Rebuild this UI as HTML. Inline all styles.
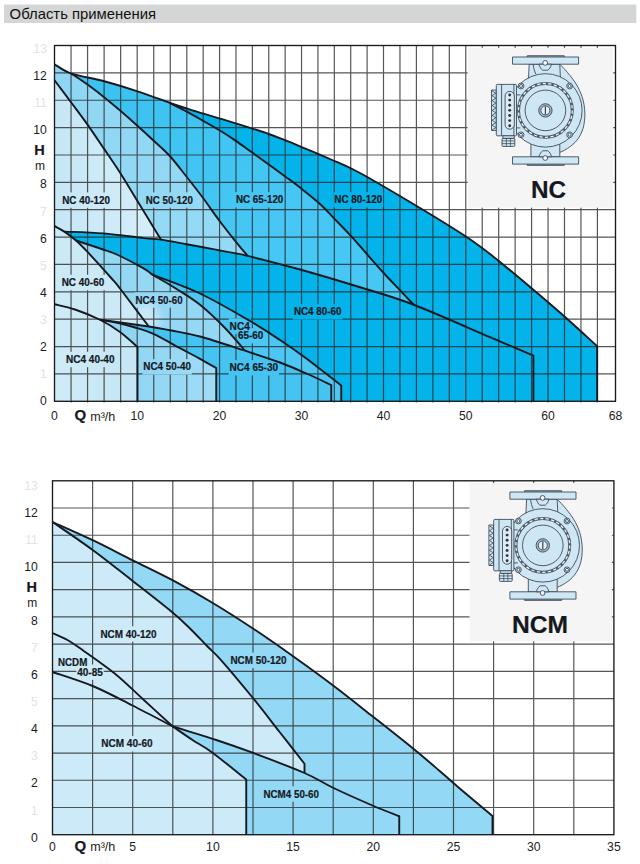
<!DOCTYPE html>
<html><head><meta charset="utf-8">
<style>
html,body{margin:0;padding:0;background:#fff;}
body{width:640px;height:864px;overflow:hidden;font-family:"Liberation Sans",sans-serif;}
svg{display:block;position:absolute;left:0;top:0;}
text{font-family:"Liberation Sans",sans-serif;font-size:12.2px;fill:#1c1c1c;}
text.b{font-weight:bold;fill:#15181f;stroke:#15181f;stroke-width:0.2px;}
</style></head><body>
<svg width="640" height="864" viewBox="0 0 640 864">
<defs>
 <linearGradient id="g1" gradientUnits="userSpaceOnUse" x1="54" y1="0" x2="155" y2="0">
  <stop offset="0" stop-color="#c6e7f6"/><stop offset="1" stop-color="#d5eef9"/>
 </linearGradient>
 <linearGradient id="g2" gradientUnits="userSpaceOnUse" x1="60" y1="70" x2="200" y2="250">
  <stop offset="0" stop-color="#8ed6f3"/><stop offset="1" stop-color="#95daf5"/>
 </linearGradient>
 <linearGradient id="g3" gradientUnits="userSpaceOnUse" x1="100" y1="85" x2="250" y2="250">
  <stop offset="0" stop-color="#3bc2f1"/><stop offset="1" stop-color="#47c7f3"/>
 </linearGradient>
 <linearGradient id="g6" gradientUnits="userSpaceOnUse" x1="120" y1="300" x2="165" y2="270">
  <stop offset="0" stop-color="#cfe9f7"/><stop offset="1" stop-color="#9bd5f3"/>
 </linearGradient>
 <linearGradient id="g8" gradientUnits="userSpaceOnUse" x1="54" y1="0" x2="137" y2="0">
  <stop offset="0" stop-color="#cfebf7"/><stop offset="1" stop-color="#c4e6f6"/>
 </linearGradient>
 <linearGradient id="g9" gradientUnits="userSpaceOnUse" x1="137" y1="0" x2="216" y2="0">
  <stop offset="0" stop-color="#90d6f3"/><stop offset="1" stop-color="#a1dbf6"/>
 </linearGradient>
 <linearGradient id="g10" gradientUnits="userSpaceOnUse" x1="150" y1="0" x2="331" y2="0">
  <stop offset="0" stop-color="#36b6ed"/><stop offset="0.55" stop-color="#41baee"/><stop offset="1" stop-color="#4fc0f0"/>
 </linearGradient>
 <filter id="bl12" filterUnits="userSpaceOnUse" x="0" y="0" width="640" height="864"><feGaussianBlur stdDeviation="12"/></filter>
 <filter id="bl6" filterUnits="userSpaceOnUse" x="0" y="0" width="640" height="864"><feGaussianBlur stdDeviation="5"/></filter>
 <filter id="bl8" filterUnits="userSpaceOnUse" x="0" y="0" width="640" height="864"><feGaussianBlur stdDeviation="7"/></filter>
 <clipPath id="cp_r2"><path d="M54.50 80.30L54.50 64.30 C57.33 65.85 68.67 72.05 71.50 73.60 C74.17 75.43 82.07 80.67 87.50 84.60 C92.93 88.53 98.62 92.83 104.10 97.20 C109.58 101.57 114.90 106.08 120.40 110.80 C125.90 115.52 131.55 120.52 137.10 125.50 C142.65 130.48 148.25 135.62 153.70 140.70 C159.15 145.78 164.35 150.03 169.80 156.00 C175.25 161.97 180.88 169.53 186.40 176.50 C191.92 183.47 197.37 190.38 202.90 197.80 C208.43 205.22 214.10 213.67 219.60 221.00 C225.10 228.33 231.23 236.00 235.90 241.80 C240.57 247.60 245.65 253.47 247.60 255.80 C245.65 255.40 240.57 254.30 235.90 253.40 C231.23 252.50 225.10 251.43 219.60 250.40 C214.10 249.37 208.43 248.23 202.90 247.20 C197.37 246.17 193.40 245.47 186.40 244.20 C179.40 242.93 165.15 240.37 160.90 239.60 C159.70 237.62 157.67 234.22 153.70 227.70 C149.73 221.18 142.65 209.58 137.10 200.50 C131.55 191.42 125.90 181.80 120.40 173.20 C114.90 164.60 109.58 157.00 104.10 148.90 C98.62 140.80 93.02 132.38 87.50 124.60 C81.98 116.82 76.50 109.63 71.00 102.25 C65.50 94.87 57.25 83.96 54.50 80.30Z"/></clipPath><clipPath id="cp_r6"><path d="M76.00 240.50 C81.08 242.18 99.17 248.02 106.50 250.60 C113.83 253.18 113.75 253.00 120.00 256.00 C126.25 259.00 138.58 265.48 144.00 268.60 C149.42 271.73 151.08 273.73 152.50 274.75 C156.25 276.96 167.08 283.00 175.00 288.00 C182.92 293.00 191.67 298.08 200.00 304.75 C208.33 311.42 217.50 320.34 225.00 328.00 C232.50 335.66 241.67 346.92 245.00 350.70 C237.50 348.33 212.50 339.90 200.00 336.50 C187.50 333.10 178.54 331.97 170.00 330.30 C161.46 328.63 152.29 327.13 148.75 326.50 C143.96 320.17 126.26 296.58 120.00 288.50 C113.74 280.42 116.58 284.05 111.20 278.00 C105.83 271.95 93.62 258.45 87.75 252.20 C81.88 245.95 77.96 242.45 76.00 240.50Z"/></clipPath><clipPath id="cp_r9"><path d="M100.00 319.75 C103.07 320.29 112.57 321.71 118.40 323.00 C124.23 324.29 129.17 325.68 135.00 327.50 C140.83 329.32 145.58 330.28 153.40 333.90 C161.22 337.52 174.13 345.05 181.90 349.20 C189.67 353.35 194.28 355.67 200.00 358.80 C205.72 361.93 213.54 366.47 216.25 368.00L216.25 401.30L137.50 401.30L137.50 347.00 C134.58 344.50 126.25 336.54 120.00 332.00 C113.75 327.46 103.33 321.79 100.00 319.75Z"/></clipPath>
 <mask id="mk1" maskUnits="userSpaceOnUse" x="0" y="0" width="640" height="864"><rect width="640" height="864" fill="#fff"/><rect x="61.30" y="192.40" width="49.50" height="15.40" fill="#000"/><rect x="144.80" y="192.30" width="49.00" height="15.40" fill="#000"/><rect x="235.00" y="192.10" width="49.20" height="15.40" fill="#000"/><rect x="333.40" y="192.10" width="49.70" height="15.40" fill="#000"/><rect x="60.80" y="274.80" width="44.30" height="15.40" fill="#000"/><rect x="134.55" y="292.30" width="48.95" height="15.40" fill="#000"/><rect x="228.70" y="318.40" width="22.10" height="15.40" fill="#000"/><rect x="237.10" y="328.10" width="27.20" height="15.40" fill="#000"/><rect x="293.00" y="304.20" width="49.40" height="15.40" fill="#000"/><rect x="65.05" y="351.80" width="50.40" height="15.40" fill="#000"/><rect x="142.40" y="359.20" width="49.40" height="15.40" fill="#000"/><rect x="228.70" y="360.10" width="50.30" height="15.40" fill="#000"/></mask>
 <mask id="mk2" maskUnits="userSpaceOnUse" x="0" y="0" width="640" height="864"><rect width="640" height="864" fill="#fff"/><rect x="99.55" y="626.30" width="57.90" height="15.40" fill="#000"/><rect x="229.55" y="652.55" width="57.90" height="15.40" fill="#000"/><rect x="57.05" y="654.30" width="31.15" height="15.40" fill="#000"/><rect x="76.30" y="664.55" width="27.40" height="15.40" fill="#000"/><rect x="100.30" y="736.10" width="53.20" height="15.40" fill="#000"/><rect x="262.55" y="786.30" width="57.40" height="15.40" fill="#000"/></mask>
</defs>
<rect width="640" height="864" fill="#fff"/>
<!-- header -->
<rect x="4" y="4.5" width="632.3" height="18.5" fill="#d4d5d5"/>
<text x="9.6" y="19.2" style="font-size:15px;fill:#111" textLength="146.5" lengthAdjust="spacingAndGlyphs">Область применения</text>

<!-- ===== chart 1 ===== -->
<g>
 <path d="M54.50 64.30 C57.33 65.85 63.21 70.77 71.50 73.60 C79.79 76.42 93.25 78.30 104.25 81.25 C115.25 84.20 126.54 87.67 137.50 91.30 C148.46 94.92 161.87 100.15 170.00 103.00 C178.13 105.85 180.85 106.67 186.30 108.40 C191.75 110.13 197.23 111.75 202.70 113.40 C208.17 115.05 213.63 116.65 219.10 118.30 C224.57 119.95 230.03 121.62 235.50 123.30 C240.97 124.98 246.37 126.62 251.90 128.40 C257.43 130.18 263.17 132.03 268.70 134.00 C274.23 135.97 279.88 138.15 285.10 140.20 C290.32 142.25 292.52 143.17 300.00 146.30 C307.48 149.43 320.00 154.55 330.00 159.00 C340.00 163.45 345.00 164.83 360.00 173.00 C375.00 181.17 402.29 197.38 420.00 208.00 C437.71 218.62 454.17 228.75 466.25 236.75 C478.33 244.75 481.51 247.32 492.50 256.00 C503.49 264.68 520.12 278.63 532.20 288.80 C544.28 298.97 554.17 307.43 565.00 317.00 C575.83 326.57 591.83 341.33 597.20 346.20L597.20 401.30L54.50 401.30Z" fill="#03b3e9"/>
 <path d="M54.50 80.30 C57.25 83.96 65.50 94.87 71.00 102.25 C76.50 109.63 81.98 116.82 87.50 124.60 C93.02 132.38 98.62 140.80 104.10 148.90 C109.58 157.00 114.90 164.60 120.40 173.20 C125.90 181.80 131.55 191.42 137.10 200.50 C142.65 209.58 149.73 221.18 153.70 227.70 C157.67 234.22 159.70 237.62 160.90 239.60 C158.08 239.35 153.58 239.13 144.00 238.10 C134.42 237.07 116.68 234.48 103.40 233.40 C90.12 232.32 70.82 231.90 64.30 231.60 C62.67 230.68 56.13 227.02 54.50 226.10Z" fill="url(#g1)"/>
 <path d="M54.50 80.30L54.50 64.30 C57.33 65.85 68.67 72.05 71.50 73.60 C74.17 75.43 82.07 80.67 87.50 84.60 C92.93 88.53 98.62 92.83 104.10 97.20 C109.58 101.57 114.90 106.08 120.40 110.80 C125.90 115.52 131.55 120.52 137.10 125.50 C142.65 130.48 148.25 135.62 153.70 140.70 C159.15 145.78 164.35 150.03 169.80 156.00 C175.25 161.97 180.88 169.53 186.40 176.50 C191.92 183.47 197.37 190.38 202.90 197.80 C208.43 205.22 214.10 213.67 219.60 221.00 C225.10 228.33 231.23 236.00 235.90 241.80 C240.57 247.60 245.65 253.47 247.60 255.80 C245.65 255.40 240.57 254.30 235.90 253.40 C231.23 252.50 225.10 251.43 219.60 250.40 C214.10 249.37 208.43 248.23 202.90 247.20 C197.37 246.17 193.40 245.47 186.40 244.20 C179.40 242.93 165.15 240.37 160.90 239.60 C159.70 237.62 157.67 234.22 153.70 227.70 C149.73 221.18 142.65 209.58 137.10 200.50 C131.55 191.42 125.90 181.80 120.40 173.20 C114.90 164.60 109.58 157.00 104.10 148.90 C98.62 140.80 93.02 132.38 87.50 124.60 C81.98 116.82 76.50 109.63 71.00 102.25 C65.50 94.87 57.25 83.96 54.50 80.30Z" fill="url(#g2)"/>
 <path d="M71.50 73.60 C76.96 74.88 93.25 78.30 104.25 81.25 C115.25 84.20 126.54 87.67 137.50 91.30 C148.46 94.92 164.58 101.05 170.00 103.00 C172.72 104.40 180.85 108.47 186.30 111.40 C191.75 114.33 197.23 117.50 202.70 120.60 C208.17 123.70 213.63 126.67 219.10 130.00 C224.57 133.33 230.03 136.88 235.50 140.60 C240.97 144.32 246.37 148.33 251.90 152.30 C257.43 156.27 263.17 160.38 268.70 164.40 C274.23 168.42 279.88 172.53 285.10 176.40 C290.32 180.27 294.18 183.00 300.00 187.60 C305.82 192.20 314.33 198.88 320.00 204.00 C325.67 209.12 328.90 213.03 334.00 218.30 C339.10 223.57 345.12 229.65 350.60 235.60 C356.08 241.55 361.47 247.85 366.90 254.00 C372.33 260.15 377.73 266.50 383.20 272.50 C388.67 278.50 394.61 284.62 399.70 290.00 C404.79 295.38 411.41 302.29 413.75 304.75 C404.79 301.83 378.96 293.12 360.00 287.25 C341.04 281.38 318.73 274.74 300.00 269.50 C281.27 264.26 256.33 258.08 247.60 255.80 C245.65 253.47 240.57 247.60 235.90 241.80 C231.23 236.00 225.10 228.33 219.60 221.00 C214.10 213.67 208.43 205.22 202.90 197.80 C197.37 190.38 191.92 183.47 186.40 176.50 C180.88 169.53 175.25 161.97 169.80 156.00 C164.35 150.03 159.15 145.78 153.70 140.70 C148.25 135.62 142.65 130.48 137.10 125.50 C131.55 120.52 125.90 115.52 120.40 110.80 C114.90 106.08 109.58 101.57 104.10 97.20 C98.62 92.83 92.93 88.53 87.50 84.60 C82.07 80.67 74.17 75.43 71.50 73.60Z" fill="url(#g3)"/>
 <path d="M54.50 226.10 C56.13 227.02 60.72 229.20 64.30 231.60 C67.88 234.00 72.09 237.07 76.00 240.50 C79.91 243.93 81.88 245.95 87.75 252.20 C93.62 258.45 105.83 271.95 111.20 278.00 C116.58 284.05 113.74 280.42 120.00 288.50 C126.26 296.58 143.96 320.17 148.75 326.50 C140.62 325.38 108.12 320.88 100.00 319.75 C95.83 318.04 82.58 312.08 75.00 309.50 C67.42 306.92 57.92 305.12 54.50 304.25Z" fill="#cce9f6"/>
 <g clip-path="url(#cp_r6)"><path d="M76.00 240.50 C81.08 242.18 99.17 248.02 106.50 250.60 C113.83 253.18 113.75 253.00 120.00 256.00 C126.25 259.00 138.58 265.48 144.00 268.60 C149.42 271.73 151.08 273.73 152.50 274.75 C156.25 276.96 167.08 283.00 175.00 288.00 C182.92 293.00 191.67 298.08 200.00 304.75 C208.33 311.42 217.50 320.34 225.00 328.00 C232.50 335.66 241.67 346.92 245.00 350.70 C237.50 348.33 212.50 339.90 200.00 336.50 C187.50 333.10 178.54 331.97 170.00 330.30 C161.46 328.63 152.29 327.13 148.75 326.50 C143.96 320.17 126.26 296.58 120.00 288.50 C113.74 280.42 116.58 284.05 111.20 278.00 C105.83 271.95 93.62 258.45 87.75 252.20 C81.88 245.95 77.96 242.45 76.00 240.50Z" fill="#95d8f4"/><path d="M140 306 L152 328" fill="none" stroke="#cdeaf7" stroke-width="22" filter="url(#bl6)"/></g>
 <path d="M152.50 274.75 C160.42 277.88 183.75 285.79 200.00 293.50 C216.25 301.21 236.67 313.25 250.00 321.00 C263.33 328.75 270.83 333.92 280.00 340.00 C289.17 346.08 294.79 349.92 305.00 357.50 C315.21 365.08 335.21 380.83 341.25 385.50L341.25 401.30L331.25 401.30L331.25 385.00 C327.29 383.17 316.04 377.75 307.50 374.00 C298.96 370.25 290.42 366.38 280.00 362.50 C269.58 358.62 250.83 352.67 245.00 350.70 C241.67 346.92 232.50 335.66 225.00 328.00 C217.50 320.34 208.33 311.42 200.00 304.75 C191.67 298.08 182.92 293.00 175.00 288.00 C167.08 283.00 156.25 276.96 152.50 274.75Z" fill="#4cc6f3"/>
 <path d="M54.50 304.25 C57.92 305.12 67.42 306.92 75.00 309.50 C82.58 312.08 92.50 316.00 100.00 319.75 C107.50 323.50 113.75 327.46 120.00 332.00 C126.25 336.54 134.58 344.50 137.50 347.00L137.50 401.30L54.50 401.30Z" fill="url(#g8)"/>
 <path d="M100.00 319.75 C103.07 320.29 112.57 321.71 118.40 323.00 C124.23 324.29 129.17 325.68 135.00 327.50 C140.83 329.32 145.58 330.28 153.40 333.90 C161.22 337.52 174.13 345.05 181.90 349.20 C189.67 353.35 194.28 355.67 200.00 358.80 C205.72 361.93 213.54 366.47 216.25 368.00L216.25 401.30L137.50 401.30L137.50 347.00 C134.58 344.50 126.25 336.54 120.00 332.00 C113.75 327.46 103.33 321.79 100.00 319.75Z" fill="url(#g9)"/>
 <path d="M100.00 319.75 C108.12 320.88 137.08 324.74 148.75 326.50 C160.42 328.26 161.46 328.63 170.00 330.30 C178.54 331.97 187.50 333.10 200.00 336.50 C212.50 339.90 231.67 346.37 245.00 350.70 C258.33 355.03 269.58 358.62 280.00 362.50 C290.42 366.38 298.96 370.25 307.50 374.00 C316.04 377.75 327.29 383.17 331.25 385.00L331.25 401.30L216.25 401.30L216.25 368.00 C213.54 366.47 205.72 361.93 200.00 358.80 C194.28 355.67 189.67 353.35 181.90 349.20 C174.13 345.05 161.22 337.52 153.40 333.90 C145.58 330.28 140.83 329.32 135.00 327.50 C129.17 325.68 124.23 324.29 118.40 323.00 C112.57 321.71 103.07 320.29 100.00 319.75Z" fill="#45c4f2"/>
 <path d="M71.04 45.50V402.50 M87.58 45.50V402.50 M104.11 45.50V402.50 M120.65 45.50V402.50 M137.19 45.50V402.50 M153.73 45.50V402.50 M170.26 45.50V402.50 M186.80 45.50V402.50 M203.19 45.50V402.50 M219.58 45.50V402.50 M235.97 45.50V402.50 M252.37 45.50V402.50 M268.76 45.50V402.50 M285.15 45.50V402.50 M301.54 45.50V402.50 M317.93 45.50V402.50 M334.33 45.50V402.50 M350.72 45.50V402.50 M367.11 45.50V402.50 M383.50 45.50V402.50 M399.95 45.50V402.50 M416.41 45.50V402.50 M432.86 45.50V402.50 M449.32 45.50V402.50 M465.77 45.50V402.50 M482.22 45.50V402.50 M498.68 45.50V402.50 M515.13 45.50V402.50 M531.58 45.50V402.50 M548.04 45.50V402.50 M564.49 45.50V402.50 M580.95 45.50V402.50 M597.40 45.50V402.50 M54.50 373.93H615.50 M54.50 346.56H615.50 M54.50 319.19H615.50 M54.50 291.82H615.50 M54.50 264.45H615.50 M54.50 237.08H615.50 M54.50 209.72H615.50 M54.50 182.35H615.50 M54.50 154.98H615.50 M54.50 127.61H615.50 M54.50 100.24H615.50 M54.50 72.87H615.50" stroke="#262626" stroke-width="1.2" stroke-opacity="0.78" fill="none" mask="url(#mk1)"/>
 <rect x="467.6" y="47.8" width="145.6" height="159.9" fill="#f5f5f5"/>
 <rect x="54.5" y="45.5" width="561.0" height="355.8" fill="none" stroke="#1a1a1a" stroke-width="1.35"/>
 <g fill="none" stroke="#161a20" stroke-width="1.9" stroke-linejoin="round" stroke-linecap="butt">
  <path d="M54.50 64.30 C57.33 65.85 63.21 70.77 71.50 73.60 C79.79 76.42 93.25 78.30 104.25 81.25 C115.25 84.20 126.54 87.67 137.50 91.30 C148.46 94.92 161.87 100.15 170.00 103.00 C178.13 105.85 180.85 106.67 186.30 108.40 C191.75 110.13 197.23 111.75 202.70 113.40 C208.17 115.05 213.63 116.65 219.10 118.30 C224.57 119.95 230.03 121.62 235.50 123.30 C240.97 124.98 246.37 126.62 251.90 128.40 C257.43 130.18 263.17 132.03 268.70 134.00 C274.23 135.97 279.88 138.15 285.10 140.20 C290.32 142.25 292.52 143.17 300.00 146.30 C307.48 149.43 320.00 154.55 330.00 159.00 C340.00 163.45 345.00 164.83 360.00 173.00 C375.00 181.17 402.29 197.38 420.00 208.00 C437.71 218.62 454.17 228.75 466.25 236.75 C478.33 244.75 481.51 247.32 492.50 256.00 C503.49 264.68 520.12 278.63 532.20 288.80 C544.28 298.97 554.17 307.43 565.00 317.00 C575.83 326.57 591.83 341.33 597.20 346.20L597.20 401.30"/><path d="M54.50 80.30 C57.25 83.96 65.50 94.87 71.00 102.25 C76.50 109.63 81.98 116.82 87.50 124.60 C93.02 132.38 98.62 140.80 104.10 148.90 C109.58 157.00 114.90 164.60 120.40 173.20 C125.90 181.80 131.55 191.42 137.10 200.50 C142.65 209.58 149.73 221.18 153.70 227.70 C157.67 234.22 159.70 237.62 160.90 239.60"/><path d="M71.50 73.60 C74.17 75.43 82.07 80.67 87.50 84.60 C92.93 88.53 98.62 92.83 104.10 97.20 C109.58 101.57 114.90 106.08 120.40 110.80 C125.90 115.52 131.55 120.52 137.10 125.50 C142.65 130.48 148.25 135.62 153.70 140.70 C159.15 145.78 164.35 150.03 169.80 156.00 C175.25 161.97 180.88 169.53 186.40 176.50 C191.92 183.47 197.37 190.38 202.90 197.80 C208.43 205.22 214.10 213.67 219.60 221.00 C225.10 228.33 231.23 236.00 235.90 241.80 C240.57 247.60 245.65 253.47 247.60 255.80"/><path d="M170.00 103.00 C172.72 104.40 180.85 108.47 186.30 111.40 C191.75 114.33 197.23 117.50 202.70 120.60 C208.17 123.70 213.63 126.67 219.10 130.00 C224.57 133.33 230.03 136.88 235.50 140.60 C240.97 144.32 246.37 148.33 251.90 152.30 C257.43 156.27 263.17 160.38 268.70 164.40 C274.23 168.42 279.88 172.53 285.10 176.40 C290.32 180.27 294.18 183.00 300.00 187.60 C305.82 192.20 314.33 198.88 320.00 204.00 C325.67 209.12 328.90 213.03 334.00 218.30 C339.10 223.57 345.12 229.65 350.60 235.60 C356.08 241.55 361.47 247.85 366.90 254.00 C372.33 260.15 377.73 266.50 383.20 272.50 C388.67 278.50 394.61 284.62 399.70 290.00 C404.79 295.38 411.41 302.29 413.75 304.75"/><path d="M64.30 231.60 C70.82 231.90 90.12 232.32 103.40 233.40 C116.68 234.48 134.42 237.07 144.00 238.10 C153.58 239.13 153.83 238.58 160.90 239.60 C167.97 240.62 179.40 242.93 186.40 244.20 C193.40 245.47 197.37 246.17 202.90 247.20 C208.43 248.23 214.10 249.37 219.60 250.40 C225.10 251.43 231.23 252.50 235.90 253.40 C240.57 254.30 236.92 253.12 247.60 255.80 C258.28 258.48 281.27 264.26 300.00 269.50 C318.73 274.74 341.04 281.38 360.00 287.25 C378.96 293.12 392.08 296.43 413.75 304.75 C435.42 313.07 472.29 329.68 490.00 337.20 C507.71 344.72 512.77 346.83 520.00 349.90 C527.23 352.97 531.17 354.65 533.40 355.60L533.40 401.30"/><path d="M54.50 226.10 C56.13 227.02 60.72 229.20 64.30 231.60 C67.88 234.00 72.09 237.07 76.00 240.50 C79.91 243.93 81.88 245.95 87.75 252.20 C93.62 258.45 105.83 271.95 111.20 278.00 C116.58 284.05 113.74 280.42 120.00 288.50 C126.26 296.58 143.96 320.17 148.75 326.50"/><path d="M76.00 240.50 C81.08 242.18 99.17 248.02 106.50 250.60 C113.83 253.18 113.75 253.00 120.00 256.00 C126.25 259.00 138.58 265.48 144.00 268.60 C149.42 271.73 151.08 273.73 152.50 274.75 C156.25 276.96 167.08 283.00 175.00 288.00 C182.92 293.00 191.67 298.08 200.00 304.75 C208.33 311.42 217.50 320.34 225.00 328.00 C232.50 335.66 241.67 346.92 245.00 350.70"/><path d="M152.50 274.75 C160.42 277.88 183.75 285.79 200.00 293.50 C216.25 301.21 236.67 313.25 250.00 321.00 C263.33 328.75 270.83 333.92 280.00 340.00 C289.17 346.08 294.79 349.92 305.00 357.50 C315.21 365.08 335.21 380.83 341.25 385.50L341.25 401.30"/><path d="M54.50 304.25 C57.92 305.12 67.42 306.92 75.00 309.50 C82.58 312.08 92.50 316.00 100.00 319.75 C107.50 323.50 113.75 327.46 120.00 332.00 C126.25 336.54 134.58 344.50 137.50 347.00L137.50 401.30"/><path d="M100.00 319.75 C108.12 320.88 137.08 324.74 148.75 326.50 C160.42 328.26 161.46 328.63 170.00 330.30 C178.54 331.97 187.50 333.10 200.00 336.50 C212.50 339.90 231.67 346.37 245.00 350.70 C258.33 355.03 269.58 358.62 280.00 362.50 C290.42 366.38 298.96 370.25 307.50 374.00 C316.04 377.75 327.29 383.17 331.25 385.00L331.25 401.30"/><path d="M100.00 319.75 C103.07 320.29 112.57 321.71 118.40 323.00 C124.23 324.29 129.17 325.68 135.00 327.50 C140.83 329.32 145.58 330.28 153.40 333.90 C161.22 337.52 174.13 345.05 181.90 349.20 C189.67 353.35 194.28 355.67 200.00 358.80 C205.72 361.93 213.54 366.47 216.25 368.00L216.25 401.30"/>
 </g>
 
<g transform="translate(545.4 110.4)" stroke="#36424e" stroke-width="0.85" fill="#cfe6f4" stroke-linejoin="round">
 <path d="M14.4 -46.2 C18 -42.5 22 -38.5 27.6 -31 C32.5 -24.5 37 -15.5 38.6 -6 C39.8 1 39.8 8 38.4 15 C36.5 24 31.5 31.5 25 36 C21 39 17 41 14.4 42 L0 36 L0 -36 Z"/>
 <path d="M-16.2 -46.2 L-16.9 -32 L15 -32 L14.4 -46.2 Z"/>
 <path d="M-12.3 -46.2 C-11.8 -42 -10.8 -39 -9.6 -36.3" fill="none"/>
 <rect x="-18.2" y="-54.7" width="37" height="1.4"/>
 <rect x="-32.9" y="-53.4" width="66.1" height="7.2"/>
 <path d="M-6.6 -46.2 C-5.6 -43.5 -4.4 -41.2 -2.8 -40.2 H2.4 C4 -41.2 5.4 -43.5 6.2 -46.2 Z"/>
 <circle cx="-0.2" cy="-47.5" r="2.4" fill="#f4f8fb"/>
 <rect x="-14.5" y="33" width="28.9" height="13.4"/>
 <rect x="-18.2" y="53.6" width="37" height="1.4"/>
 <rect x="-32.9" y="46.4" width="66.1" height="7.3"/>
 <path d="M-6.6 46.4 C-5.6 43.7 -4.4 41.4 -2.8 40.4 H2.4 C4 41.4 5.4 43.7 6.2 46.4 Z"/>
 <circle cx="-0.2" cy="47.6" r="2.4" fill="#f4f8fb"/>
 <circle r="36.7"/>
 <circle cx="-24.4" cy="-24.4" r="2.9"/><circle cx="24.2" cy="-24.4" r="2.9"/>
 <circle cx="-24.4" cy="24.4" r="2.9"/><circle cx="24.2" cy="24.4" r="2.9"/>
 <circle cx="-24.4" cy="-24.4" r="1.5" fill="#f4f9fc"/><circle cx="24.2" cy="-24.4" r="1.5" fill="#f4f9fc"/>
 <circle cx="-24.4" cy="24.4" r="1.5" fill="#f4f9fc"/><circle cx="24.2" cy="24.4" r="1.5" fill="#f4f9fc"/>
 <circle r="26.9" stroke="#4d5964" stroke-width="3"/>
 <circle r="26.9" fill="none" stroke="#e9f2f8" stroke-width="1.3" stroke-dasharray="3.3 2.3"/>
 <circle r="20.3"/>
 <circle r="6.7" fill="#9db8cb"/>
 <circle r="4.5" fill="#e6f0f7"/>
 <path d="M0 -3.9V3.9" stroke-width="1.2"/>
 <path d="M-28.9 -15.5H-25M-28.9 17.5H-25" fill="none"/>
 <rect x="-53.9" y="-20.4" width="4.8" height="40.5"/>
 <path d="M-53.40 -19.60 L-49.60 -17.15 L-53.40 -14.70 L-49.60 -12.25 L-53.40 -9.80 L-49.60 -7.35 L-53.40 -4.90 L-49.60 -2.45 L-53.40 -0.00 L-49.60 2.45 L-53.40 4.90 L-49.60 7.35 L-53.40 9.80 L-49.60 12.25 L-53.40 14.70 L-49.60 17.15 L-53.40 19.60" fill="none" stroke-width="0.8"/>
 <rect x="-49.1" y="-26" width="20.2" height="51.4" rx="1"/>
 <path d="M-43.8 -26V25.4M-31.5 -26V25.4" fill="none"/>
 <rect x="-40.3" y="-19" width="9.2" height="37.8" rx="4.6" fill="#dcebf5"/>
 <g fill="#2c3640" stroke="none"><circle cx="-35.7" cy="-15.40" r="1.45"/><circle cx="-35.7" cy="-10.28" r="1.45"/><circle cx="-35.7" cy="-5.16" r="1.45"/><circle cx="-35.7" cy="-0.04" r="1.45"/><circle cx="-35.7" cy="5.08" r="1.45"/><circle cx="-35.7" cy="10.20" r="1.45"/><circle cx="-35.7" cy="15.32" r="1.45"/></g>
 <rect x="-42.5" y="25.4" width="11.4" height="2.6"/>
 <rect x="-43.4" y="28" width="12.8" height="8" rx="1"/>
 <path d="M-43.4 30.5H-30.6M-43.4 33.2H-30.6M-39 28V36M-35 28V36" fill="none" stroke-width="0.7"/>
</g>

 <text x="530.9" y="198" class="b" style="font-size:24.3px">NC</text>
 <text x="62.20" y="203.60" class="b" style="font-size:10.50px" textLength="47.70" lengthAdjust="spacingAndGlyphs">NC 40-120</text><text x="145.70" y="203.50" class="b" style="font-size:10.50px" textLength="47.20" lengthAdjust="spacingAndGlyphs">NC 50-120</text><text x="235.90" y="203.30" class="b" style="font-size:10.50px" textLength="47.40" lengthAdjust="spacingAndGlyphs">NC 65-120</text><text x="334.30" y="203.30" class="b" style="font-size:10.50px" textLength="47.90" lengthAdjust="spacingAndGlyphs">NC 80-120</text><text x="61.70" y="286.00" class="b" style="font-size:10.50px" textLength="42.50" lengthAdjust="spacingAndGlyphs">NC 40-60</text><text x="135.45" y="303.50" class="b" style="font-size:10.50px" textLength="47.15" lengthAdjust="spacingAndGlyphs">NC4 50-60</text><text x="229.60" y="329.60" class="b" style="font-size:10.50px" textLength="20.30" lengthAdjust="spacingAndGlyphs">NC4</text><text x="238.00" y="339.30" class="b" style="font-size:10.50px" textLength="25.40" lengthAdjust="spacingAndGlyphs">65-60</text><text x="293.90" y="315.40" class="b" style="font-size:10.50px" textLength="47.60" lengthAdjust="spacingAndGlyphs">NC4 80-60</text><text x="65.95" y="363.00" class="b" style="font-size:10.50px" textLength="48.60" lengthAdjust="spacingAndGlyphs">NC4 40-40</text><text x="143.30" y="370.40" class="b" style="font-size:10.50px" textLength="47.60" lengthAdjust="spacingAndGlyphs">NC4 50-40</text><text x="229.60" y="371.30" class="b" style="font-size:10.50px" textLength="48.50" lengthAdjust="spacingAndGlyphs">NC4 65-30</text>
 <text x="46.8" y="405.4" text-anchor="end" style="fill:#1c1c1c">0</text>
<text x="46.8" y="378.2" text-anchor="end" style="fill:#e3e3e3">1</text>
<text x="46.8" y="351.1" text-anchor="end" style="fill:#1c1c1c">2</text>
<text x="46.8" y="324.0" text-anchor="end" style="fill:#e3e3e3">3</text>
<text x="46.8" y="296.9" text-anchor="end" style="fill:#1c1c1c">4</text>
<text x="46.8" y="269.8" text-anchor="end" style="fill:#e3e3e3">5</text>
<text x="46.8" y="242.6" text-anchor="end" style="fill:#1c1c1c">6</text>
<text x="46.8" y="215.5" text-anchor="end" style="fill:#e3e3e3">7</text>
<text x="46.8" y="188.4" text-anchor="end" style="fill:#1c1c1c">8</text>
<text x="46.8" y="134.2" text-anchor="end" style="fill:#1c1c1c">10</text>
<text x="46.8" y="107.0" text-anchor="end" style="fill:#e3e3e3">11</text>
<text x="46.8" y="79.9" text-anchor="end" style="fill:#1c1c1c">12</text>
<text x="46.8" y="52.8" text-anchor="end" style="fill:#e3e3e3">13</text>
 <text x="34.2" y="155.2" class="b" style="font-size:14.5px">H</text>
 <text x="35" y="170.2" style="font-size:12px">m</text>
 <text x="54.5" y="419.7" text-anchor="middle">0</text>
<text x="137.2" y="419.7" text-anchor="middle">10</text>
<text x="219.6" y="419.7" text-anchor="middle">20</text>
<text x="301.5" y="419.7" text-anchor="middle">30</text>
<text x="383.5" y="419.7" text-anchor="middle">40</text>
<text x="465.8" y="419.7" text-anchor="middle">50</text>
<text x="548.0" y="419.7" text-anchor="middle">60</text>
<text x="615.5" y="419.7" text-anchor="middle">68</text>
 <text x="74.4" y="420.3" class="b" style="font-size:15px">Q</text>
 <text x="90.2" y="420.6" style="font-size:12.6px">m³/h</text>
</g>

<!-- ===== chart 2 ===== -->
<g>
 <path d="M52.50 522.00 C59.20 525.03 79.33 533.82 92.70 540.20 C106.07 546.58 119.40 553.63 132.70 560.30 C146.00 566.97 159.15 573.08 172.50 580.20 C185.85 587.32 199.45 594.98 212.80 603.00 C226.15 611.02 239.28 619.47 252.60 628.30 C265.92 637.13 279.38 646.55 292.70 656.00 C306.02 665.45 319.20 674.96 332.50 685.00 C345.80 695.04 359.17 705.75 372.50 716.25 C385.83 726.75 401.25 738.83 412.50 748.00 C423.75 757.17 432.08 764.46 440.00 771.25 C447.92 778.04 451.25 781.29 460.00 788.75 C468.75 796.21 487.08 811.46 492.50 816.00L492.50 834.70L52.50 834.70Z" fill="#93d9f5"/>
 <path d="M52.50 522.00 C59.20 526.67 79.33 540.17 92.70 550.00 C106.07 559.83 119.40 570.58 132.70 581.00 C146.00 591.42 162.95 604.58 172.50 612.50 C182.05 620.42 184.17 622.83 190.00 628.50 C195.83 634.17 202.29 641.20 207.50 646.50 C212.71 651.80 213.75 651.80 221.25 660.30 C228.75 668.80 242.71 685.47 252.50 697.50 C262.29 709.53 271.33 721.46 280.00 732.50 C288.67 743.54 300.42 758.54 304.50 763.75L304.50 773.00 C295.83 769.62 267.21 758.20 252.50 752.70 C237.79 747.20 229.58 744.41 216.25 740.00 C202.92 735.59 179.79 728.54 172.50 726.25 C175.83 728.54 185.83 735.59 192.50 740.00 C199.17 744.41 203.54 746.12 212.50 752.70 C221.46 759.28 240.62 775.03 246.25 779.50L246.25 834.70L52.50 834.70Z" fill="#cceaf7"/>
 <path d="M92.60 480.80V834.70 M132.70 480.80V834.70 M172.80 480.80V834.70 M212.90 480.80V834.70 M253.00 480.80V834.70 M293.10 480.80V834.70 M333.20 480.80V834.70 M373.30 480.80V834.70 M413.40 480.80V834.70 M453.50 480.80V834.70 M493.60 480.80V834.70 M533.70 480.80V834.70 M573.80 480.80V834.70 M52.50 807.48H613.90 M52.50 780.25H613.90 M52.50 753.03H613.90 M52.50 725.81H613.90 M52.50 698.58H613.90 M52.50 671.36H613.90 M52.50 644.14H613.90 M52.50 616.92H613.90 M52.50 589.69H613.90 M52.50 562.47H613.90 M52.50 535.25H613.90 M52.50 508.02H613.90" stroke="#262626" stroke-width="1.2" stroke-opacity="0.78" fill="none" mask="url(#mk2)"/>
 <rect x="469.5" y="483" width="142.4" height="158.4" fill="#f5f5f5"/>
 <rect x="52.5" y="480.8" width="561.4" height="353.90000000000003" fill="none" stroke="#1a1a1a" stroke-width="1.35"/>
 <g fill="none" stroke="#161a20" stroke-width="1.9" stroke-linejoin="round">
  <path d="M52.50 522.00 C59.20 525.03 79.33 533.82 92.70 540.20 C106.07 546.58 119.40 553.63 132.70 560.30 C146.00 566.97 159.15 573.08 172.50 580.20 C185.85 587.32 199.45 594.98 212.80 603.00 C226.15 611.02 239.28 619.47 252.60 628.30 C265.92 637.13 279.38 646.55 292.70 656.00 C306.02 665.45 319.20 674.96 332.50 685.00 C345.80 695.04 359.17 705.75 372.50 716.25 C385.83 726.75 401.25 738.83 412.50 748.00 C423.75 757.17 432.08 764.46 440.00 771.25 C447.92 778.04 451.25 781.29 460.00 788.75 C468.75 796.21 487.08 811.46 492.50 816.00L492.50 834.70"/><path d="M52.50 522.00 C59.20 526.67 79.33 540.17 92.70 550.00 C106.07 559.83 119.40 570.58 132.70 581.00 C146.00 591.42 162.95 604.58 172.50 612.50 C182.05 620.42 184.17 622.83 190.00 628.50 C195.83 634.17 202.29 641.20 207.50 646.50 C212.71 651.80 213.75 651.80 221.25 660.30 C228.75 668.80 242.71 685.47 252.50 697.50 C262.29 709.53 271.33 721.46 280.00 732.50 C288.67 743.54 300.42 758.54 304.50 763.75L304.50 773.00"/><path d="M52.50 633.00 C55.00 634.17 62.50 637.17 67.50 640.00 C72.50 642.83 74.58 644.38 82.50 650.00 C90.42 655.62 105.00 665.62 115.00 673.75 C125.00 681.88 132.92 690.00 142.50 698.75 C152.08 707.50 167.50 721.67 172.50 726.25"/><path d="M52.50 672.00 C59.29 674.38 79.92 680.67 93.25 686.25 C106.58 691.83 119.29 698.83 132.50 705.50 C145.71 712.17 165.83 722.79 172.50 726.25 C175.83 728.54 185.83 735.59 192.50 740.00 C199.17 744.41 203.54 746.12 212.50 752.70 C221.46 759.28 240.62 775.03 246.25 779.50L246.25 834.70"/><path d="M172.50 726.25 C179.79 728.54 202.92 735.59 216.25 740.00 C229.58 744.41 237.79 747.20 252.50 752.70 C267.21 758.20 291.17 767.20 304.50 773.00 C317.83 778.80 321.17 782.08 332.50 787.50 C343.83 792.92 361.38 800.71 372.50 805.50 C383.62 810.29 394.79 814.46 399.25 816.25L399.25 834.70"/>
 </g>
 
<g transform="translate(542.8 545.4)" stroke="#36424e" stroke-width="0.85" fill="#cfe6f4" stroke-linejoin="round">
 <path d="M14.4 -46.2 C18 -42.5 22 -38.5 27.6 -31 C32.5 -24.5 37 -15.5 38.6 -6 C39.8 1 39.8 8 38.4 15 C36.5 24 31.5 31.5 25 36 C21 39 17 41 14.4 42 L0 36 L0 -36 Z"/>
 <path d="M-16.2 -46.2 L-16.9 -32 L15 -32 L14.4 -46.2 Z"/>
 <path d="M-12.3 -46.2 C-11.8 -42 -10.8 -39 -9.6 -36.3" fill="none"/>
 <rect x="-18.2" y="-54.7" width="37" height="1.4"/>
 <rect x="-32.9" y="-53.4" width="66.1" height="7.2"/>
 <path d="M-6.6 -46.2 C-5.6 -43.5 -4.4 -41.2 -2.8 -40.2 H2.4 C4 -41.2 5.4 -43.5 6.2 -46.2 Z"/>
 <circle cx="-0.2" cy="-47.5" r="2.4" fill="#f4f8fb"/>
 <rect x="-14.5" y="33" width="28.9" height="13.4"/>
 <rect x="-18.2" y="53.6" width="37" height="1.4"/>
 <rect x="-32.9" y="46.4" width="66.1" height="7.3"/>
 <path d="M-6.6 46.4 C-5.6 43.7 -4.4 41.4 -2.8 40.4 H2.4 C4 41.4 5.4 43.7 6.2 46.4 Z"/>
 <circle cx="-0.2" cy="47.6" r="2.4" fill="#f4f8fb"/>
 <circle r="36.7"/>
 <circle cx="-24.4" cy="-24.4" r="2.9"/><circle cx="24.2" cy="-24.4" r="2.9"/>
 <circle cx="-24.4" cy="24.4" r="2.9"/><circle cx="24.2" cy="24.4" r="2.9"/>
 <circle cx="-24.4" cy="-24.4" r="1.5" fill="#f4f9fc"/><circle cx="24.2" cy="-24.4" r="1.5" fill="#f4f9fc"/>
 <circle cx="-24.4" cy="24.4" r="1.5" fill="#f4f9fc"/><circle cx="24.2" cy="24.4" r="1.5" fill="#f4f9fc"/>
 <circle r="26.9" stroke="#4d5964" stroke-width="3"/>
 <circle r="26.9" fill="none" stroke="#e9f2f8" stroke-width="1.3" stroke-dasharray="3.3 2.3"/>
 <circle r="20.3"/>
 <circle r="6.7" fill="#9db8cb"/>
 <circle r="4.5" fill="#e6f0f7"/>
 <path d="M0 -3.9V3.9" stroke-width="1.2"/>
 <path d="M-28.9 -15.5H-25M-28.9 17.5H-25" fill="none"/>
 <rect x="-53.9" y="-20.4" width="4.8" height="40.5"/>
 <path d="M-53.40 -19.60 L-49.60 -17.15 L-53.40 -14.70 L-49.60 -12.25 L-53.40 -9.80 L-49.60 -7.35 L-53.40 -4.90 L-49.60 -2.45 L-53.40 -0.00 L-49.60 2.45 L-53.40 4.90 L-49.60 7.35 L-53.40 9.80 L-49.60 12.25 L-53.40 14.70 L-49.60 17.15 L-53.40 19.60" fill="none" stroke-width="0.8"/>
 <rect x="-49.1" y="-26" width="20.2" height="51.4" rx="1"/>
 <path d="M-43.8 -26V25.4M-31.5 -26V25.4" fill="none"/>
 <rect x="-40.3" y="-19" width="9.2" height="37.8" rx="4.6" fill="#dcebf5"/>
 <g fill="#2c3640" stroke="none"><circle cx="-35.7" cy="-15.40" r="1.45"/><circle cx="-35.7" cy="-10.28" r="1.45"/><circle cx="-35.7" cy="-5.16" r="1.45"/><circle cx="-35.7" cy="-0.04" r="1.45"/><circle cx="-35.7" cy="5.08" r="1.45"/><circle cx="-35.7" cy="10.20" r="1.45"/><circle cx="-35.7" cy="15.32" r="1.45"/></g>
 <rect x="-42.5" y="25.4" width="11.4" height="2.6"/>
 <rect x="-43.4" y="28" width="12.8" height="8" rx="1"/>
 <path d="M-43.4 30.5H-30.6M-43.4 33.2H-30.6M-39 28V36M-35 28V36" fill="none" stroke-width="0.7"/>
</g>

 <text x="512" y="633" class="b" style="font-size:24.6px">NCM</text>
 <text x="100.45" y="637.50" class="b" style="font-size:10.50px" textLength="56.10" lengthAdjust="spacingAndGlyphs">NCM 40-120</text><text x="230.45" y="663.75" class="b" style="font-size:10.50px" textLength="56.10" lengthAdjust="spacingAndGlyphs">NCM 50-120</text><text x="57.95" y="665.50" class="b" style="font-size:10.50px" textLength="29.35" lengthAdjust="spacingAndGlyphs">NCDM</text><text x="77.20" y="675.75" class="b" style="font-size:10.50px" textLength="25.60" lengthAdjust="spacingAndGlyphs">40-85</text><text x="101.20" y="747.30" class="b" style="font-size:10.50px" textLength="51.40" lengthAdjust="spacingAndGlyphs">NCM 40-60</text><text x="263.45" y="797.50" class="b" style="font-size:10.50px" textLength="55.60" lengthAdjust="spacingAndGlyphs">NCM4 50-60</text>
 <text x="37.8" y="841.6" text-anchor="end" style="fill:#1c1c1c">0</text>
<text x="37.8" y="814.5" text-anchor="end" style="fill:#e3e3e3">1</text>
<text x="37.8" y="787.4" text-anchor="end" style="fill:#1c1c1c">2</text>
<text x="37.8" y="760.3" text-anchor="end" style="fill:#e3e3e3">3</text>
<text x="37.8" y="733.3" text-anchor="end" style="fill:#1c1c1c">4</text>
<text x="37.8" y="706.2" text-anchor="end" style="fill:#e3e3e3">5</text>
<text x="37.8" y="679.1" text-anchor="end" style="fill:#1c1c1c">6</text>
<text x="37.8" y="652.1" text-anchor="end" style="fill:#e3e3e3">7</text>
<text x="37.8" y="625.0" text-anchor="end" style="fill:#1c1c1c">8</text>
<text x="37.8" y="570.9" text-anchor="end" style="fill:#1c1c1c">10</text>
<text x="37.8" y="543.8" text-anchor="end" style="fill:#e3e3e3">11</text>
<text x="37.8" y="516.7" text-anchor="end" style="fill:#1c1c1c">12</text>
<text x="37.8" y="489.6" text-anchor="end" style="fill:#e3e3e3">13</text>
 <text x="26.5" y="591.6" class="b" style="font-size:14.5px">H</text>
 <text x="27.3" y="606.5" style="font-size:12px">m</text>
 <text x="52.5" y="850.5" text-anchor="middle">0</text>
<text x="132.7" y="850.5" text-anchor="middle">5</text>
<text x="212.9" y="850.5" text-anchor="middle">10</text>
<text x="293.1" y="850.5" text-anchor="middle">15</text>
<text x="373.3" y="850.5" text-anchor="middle">20</text>
<text x="453.5" y="850.5" text-anchor="middle">25</text>
<text x="533.7" y="850.5" text-anchor="middle">30</text>
<text x="613.9" y="850.5" text-anchor="middle">35</text>
 <text x="74.4" y="850.8" class="b" style="font-size:15px">Q</text>
 <text x="90.2" y="851.1" style="font-size:12.6px">m³/h</text>
</g>
</svg>
</body></html>
